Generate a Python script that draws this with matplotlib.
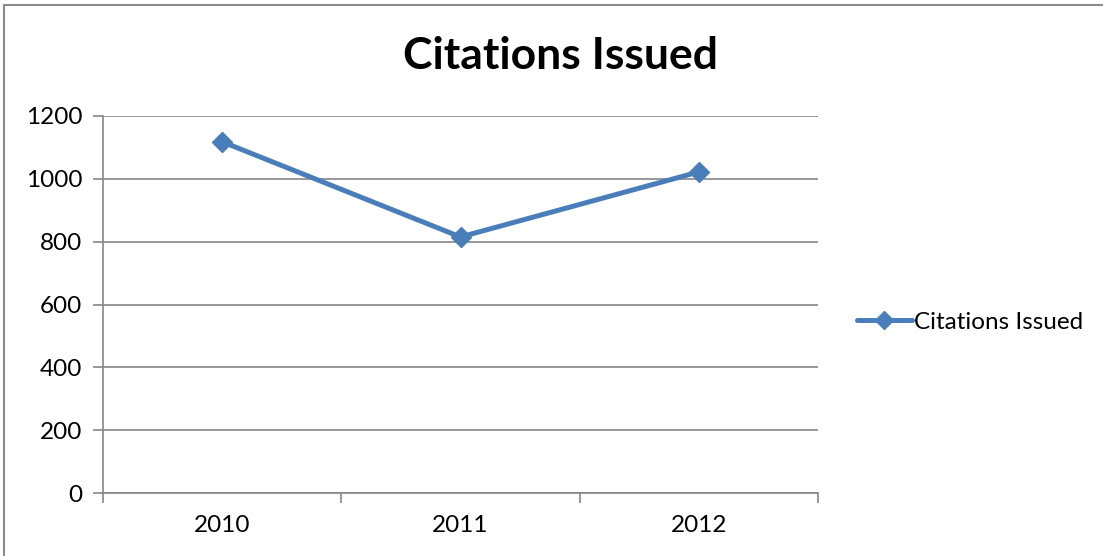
import matplotlib.pyplot as plt
from matplotlib.patches import Rectangle

years = ['2010', '2011', '2012']
citations = [1118, 815, 1022]
series_name = 'Citations Issued'

plt.rcParams['font.family'] = ['Lato', 'DejaVu Sans']

fig = plt.figure(figsize=(11.03, 5.56), dpi=100)
ax = fig.add_axes([103 / 1103, 63 / 556, 715 / 1103, 377 / 556])

blue = '#4A7EBB'
grid = '#868686'

x = list(range(len(years)))
ax.plot(x, citations, color=blue, lw=3.6, marker='D', ms=10,
        markerfacecolor=blue, markeredgecolor=blue, label=series_name,
        solid_capstyle='round', zorder=3)

ax.set_xlim(-0.5, len(years) - 0.5)
ax.set_ylim(0, 1200)
ax.set_yticks(range(0, 1201, 200))
ax.yaxis.grid(True, color=grid, lw=1.2)
ax.set_axisbelow(True)

ax.set_xticks(x)
ax.set_xticklabels(years)
ax.set_xticks([i - 0.5 for i in range(len(years) + 1)], minor=True)
ax.tick_params(axis='x', which='major', length=0, pad=16, labelsize=17.5)
ax.tick_params(axis='x', which='minor', length=7, color=grid, width=1.2, direction='out')
ax.tick_params(axis='y', length=7, color=grid, width=1.2, labelsize=17.5, pad=8)

for s in ['top', 'right']:
    ax.spines[s].set_visible(False)
for s in ['left', 'bottom']:
    ax.spines[s].set_color(grid)
    ax.spines[s].set_linewidth(1.2)

fig.text(560 / 1103, 1 - 56 / 556, 'Citations Issued', ha='center', va='center',
         fontsize=32, fontweight='bold')

leg = ax.legend(loc='center left', bbox_to_anchor=(857 / 1103, 1 - 322 / 556),
                bbox_transform=fig.transFigure, frameon=False, fontsize=17.5,
                handlelength=2.25, handletextpad=0.1, markerscale=0.9,
                borderpad=0, borderaxespad=0)

# outer chart border (cut off at right and bottom)
fig.patches.append(Rectangle((3.5 / 1103, -0.1), 1.2, 1 - 4.5 / 556 + 0.1,
                             transform=fig.transFigure, fill=False,
                             edgecolor='#8C8C8C', lw=1.5))

fig.savefig('out.png', dpi=100)
